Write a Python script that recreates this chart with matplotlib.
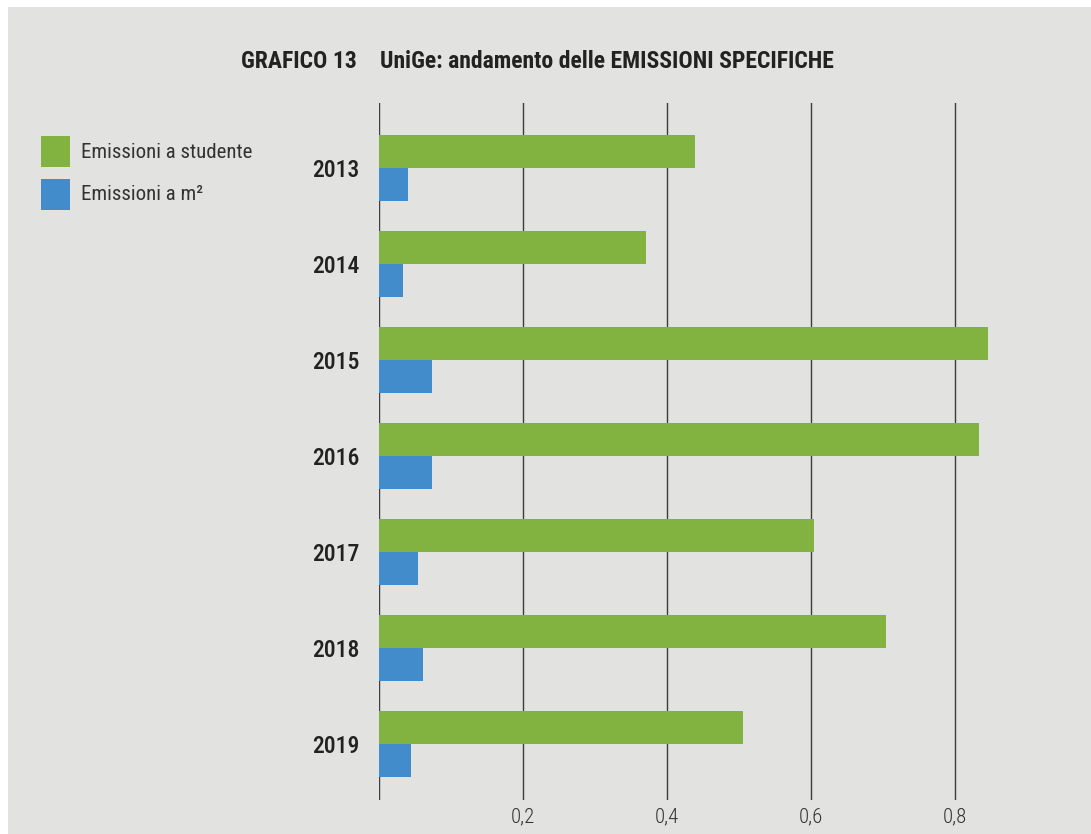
import matplotlib
matplotlib.use("Agg")
import matplotlib.pyplot as plt
from matplotlib.patches import Rectangle
import numpy as np

years = ["2013", "2014", "2015", "2016", "2017", "2018", "2019"]
per_studente = [0.439, 0.371, 0.846, 0.833, 0.604, 0.704, 0.506]
per_m2 = [0.040, 0.033, 0.074, 0.074, 0.054, 0.061, 0.044]
xticks = [0.2, 0.4, 0.6, 0.8]
xtick_labels = ["0,2", "0,4", "0,6", "0,8"]

GREEN = "#82b341"
BLUE = "#438ccb"
BG = "#e2e3e0"
LINE = "#3c3c3c"

plt.rcParams["font.family"] = ["Roboto Condensed", "DejaVu Sans"]

W, H = 1091, 834
fig = plt.figure(figsize=(W / 100, H / 100), dpi=100)
fig.patch.set_facecolor("white")
# grey panel behind everything
fig.add_artist(Rectangle((8 / W, 0), 1 - 8 / W, 1 - 7 / H, transform=fig.transFigure,
                         facecolor=BG, edgecolor="none", zorder=0))

ax = fig.add_axes([379 / W, 1 - 800 / H, (1063 - 379) / W, (800 - 103) / H])
ax.set_facecolor("none")

y = np.arange(len(years))
h = 0.34
ax.barh(y - h / 2, per_studente, height=h, color=GREEN, zorder=2)
ax.barh(y + h / 2, per_m2, height=h, color=BLUE, zorder=2)

ax.set_xlim(0, 0.95)
ax.set_ylim(len(years) - 1 + 0.583, -0.677)
for xv in [0] + xticks:
    ax.axvline(xv, color=LINE, lw=1.0, zorder=1)

ax.set_xticks(xticks)
ax.set_xticklabels(xtick_labels, fontsize=15, fontweight=300, color="#333333")
ax.set_yticks(y)
ax.set_yticklabels(years, fontsize=17, fontweight=500, color="#222222")
ax.tick_params(length=0)
ax.tick_params(axis="x", pad=5)
ax.tick_params(axis="y", pad=14)
for s in ax.spines.values():
    s.set_visible(False)

# title
fig.text(357 / W, 1 - 62 / H, "GRAFICO 13", ha="right", va="center",
         fontsize=17, fontweight="bold", color="#222222")
fig.text(380 / W, 1 - 62 / H, "UniGe: andamento delle EMISSIONI SPECIFICHE",
         ha="left", va="center", fontsize=17, fontweight="bold", color="#222222")

# legend
for i, (lab, col) in enumerate([("Emissioni a studente", GREEN), ("Emissioni a m²", BLUE)]):
    top = 136 + i * 43
    fig.add_artist(Rectangle((41 / W, 1 - (top + 31) / H), 29 / W, 31 / H,
                             transform=fig.transFigure, facecolor=col, edgecolor="none"))
    fig.text(81 / W, 1 - (top + 16) / H, lab, ha="left", va="center",
             fontsize=15, color="#333333")

fig.savefig("out.png", dpi=100)
